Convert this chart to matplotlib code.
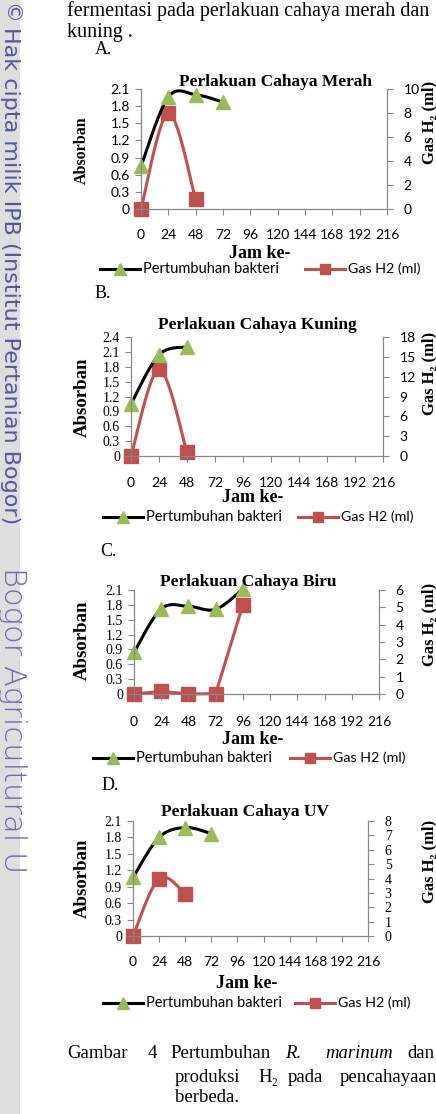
import matplotlib
matplotlib.use("Agg")
import matplotlib.pyplot as plt
from matplotlib.lines import Line2D
from matplotlib.patches import Rectangle
import numpy as np

# figure size in pixels (dpi 100)
W, H = 436, 1114

# x axis categories (Jam ke-)
hours = [0, 24, 48, 72, 96, 120, 144, 168, 192, 216]

# A. Perlakuan Cahaya Merah
merah_jam_abs = [0, 24, 48, 72]
merah_abs = [0.75, 1.96, 2.0, 1.87]
merah_jam_gas = [0, 24, 48]
merah_gas = [0.0, 8.0, 0.8]

# B. Perlakuan Cahaya Kuning
kuning_jam_abs = [0, 24, 48]
kuning_abs = [1.05, 2.04, 2.2]
kuning_jam_gas = [0, 24, 48]
kuning_gas = [0.0, 13.1, 0.6]

# C. Perlakuan Cahaya Biru
biru_jam_abs = [0, 24, 48, 72, 96]
biru_abs = [0.84, 1.72, 1.77, 1.71, 2.12]
biru_jam_gas = [0, 24, 48, 72, 96]
biru_gas = [0.0, 0.15, 0.0, 0.02, 5.15]

# D. Perlakuan Cahaya UV
uv_jam_abs = [0, 24, 48, 72]
uv_abs = [1.07, 1.8, 1.98, 1.87]
uv_jam_gas = [0, 24, 48]
uv_gas = [0.0, 4.0, 2.95]

SERIF = ["Liberation Serif", "DejaVu Serif"]
SANS = ["Lato", "DejaVu Sans"]
GREEN = "#9bbb59"
RED = "#c0504d"
GRID = "#868686"


def box(x0, ytop, x1, ybot):
    return [x0 / W, 1 - ybot / H, (x1 - x0) / W, (ybot - ytop) / H]


def fx(x):
    return x / W


def fy(y):
    return 1 - y / H


def smooth(xs, ys, n=24):
    # Excel style smoothed line (uniform Catmull-Rom through the points)
    p = np.column_stack([xs, ys]).astype(float)
    if len(p) < 3:
        return p[:, 0], p[:, 1]
    ext = np.vstack([p[0], p, p[-1]])
    t = np.linspace(0, 1, n)[:, None]
    out = []
    for i in range(1, len(ext) - 2):
        p0, p1, p2, p3 = ext[i - 1], ext[i], ext[i + 1], ext[i + 2]
        seg = 0.5 * (2 * p1 + (-p0 + p2) * t + (2 * p0 - 5 * p1 + 4 * p2 - p3) * t ** 2
                     + (-p0 + 3 * p1 - 3 * p2 + p3) * t ** 3)
        out.append(seg)
    out = np.vstack(out)
    return out[:, 0], out[:, 1]


panels = [
    dict(title="Perlakuan Cahaya Merah", letter="A.",
         jab=merah_jam_abs, ab=merah_abs, jgas=merah_jam_gas, gas=merah_gas, gas_smooth=True,
         ymax=2.1, ystep=0.3, gmax=10, gstep=2,
         rect=(141, 89, 387, 209), title_xy=(275, 82), ylab_y=150, glab_y=122,
         xl_y=253, tick_pad=10.5, leg_y=269, leg_x=(100, 305), letter_xy=(95, 50),
         left_font=SANS, right_font=SANS, ylab_size=11.5),
    dict(title="Perlakuan Cahaya Kuning", letter="B.",
         jab=kuning_jam_abs, ab=kuning_abs, jgas=kuning_jam_gas, gas=kuning_gas, gas_smooth=True,
         ymax=2.4, ystep=0.3, gmax=18, gstep=3,
         rect=(131, 337, 383, 456), title_xy=(257, 325), ylab_y=397, glab_y=373,
         xl_y=498, tick_pad=11, leg_y=517, leg_x=(103, 298), letter_xy=(95, 293),
         left_font=SERIF, right_font=SANS, ylab_size=13.5),
    dict(title="Perlakuan Cahaya Biru", letter="C.",
         jab=biru_jam_abs, ab=biru_abs, jgas=biru_jam_gas, gas=biru_gas, gas_smooth=False,
         ymax=2.1, ystep=0.3, gmax=6, gstep=1,
         rect=(134, 590, 379, 694), title_xy=(248, 582), ylab_y=640, glab_y=624,
         xl_y=739, tick_pad=11.5, leg_y=758, leg_x=(93, 290), letter_xy=(100, 552),
         left_font=SERIF, right_font=SANS, ylab_size=13.5),
    dict(title="Perlakuan Cahaya UV", letter="D.",
         jab=uv_jam_abs, ab=uv_abs, jgas=uv_jam_gas, gas=uv_gas, gas_smooth=True,
         ymax=2.1, ystep=0.3, gmax=8, gstep=1,
         rect=(133, 821, 368, 936), title_xy=(245, 812), ylab_y=878, glab_y=861,
         xl_y=983, tick_pad=10.5, leg_y=1003, leg_x=(103, 295), letter_xy=(102, 785),
         left_font=SERIF, right_font=SERIF, ylab_size=13.5),
]

fig = plt.figure(figsize=(W / 100, H / 100), dpi=100)
fig.patch.set_facecolor("white")

for p in panels:
    x0, yt, x1, yb = p["rect"]
    ax = fig.add_axes(box(x0, yt, x1, yb))
    ax2 = ax.twinx()
    ax.set_zorder(ax2.get_zorder() + 1)
    ax.patch.set_visible(False)

    ax.set_xlim(hours[0], hours[-1])
    ax.set_ylim(0, p["ymax"])
    ax2.set_ylim(0, p["gmax"])
    ax.set_xticks(hours)
    ax.set_xticklabels([str(h) for h in hours], family=SANS, fontsize=10)
    yt_vals = np.round(np.arange(0, p["ymax"] + 1e-9, p["ystep"]), 1)
    ax.set_yticks(yt_vals)
    ax.set_yticklabels(["0" if v == 0 else f"{v:.1f}" for v in yt_vals],
                       family=p["left_font"], fontsize=10)
    g_vals = np.arange(0, p["gmax"] + 1, p["gstep"])
    ax2.set_yticks(g_vals)
    ax2.set_yticklabels([str(int(v)) for v in g_vals], family=p["right_font"], fontsize=10)

    for a in (ax, ax2):
        a.spines["top"].set_visible(False)
        for s in ("left", "right", "bottom"):
            a.spines[s].set_color(GRID)
            a.spines[s].set_linewidth(0.8)
    ax.tick_params(axis="x", length=4, color=GRID, pad=p["tick_pad"], labelcolor="black")
    ax.tick_params(axis="y", length=4, color=GRID, pad=4)
    ax2.tick_params(axis="y", length=4, color=GRID, pad=8)

    # Gas H2 on the secondary axis
    if p["gas_smooth"]:
        sx, sy = smooth(p["jgas"], p["gas"])
    else:
        sx, sy = p["jgas"], p["gas"]
    ax2.plot(sx, sy, color=RED, lw=2.2, clip_on=False, solid_capstyle="round")
    ax2.plot(p["jgas"], p["gas"], ls="none", marker="s", ms=9.5, color=RED,
             mec=RED, clip_on=False)

    # bacterial growth (absorbance)
    sx, sy = smooth(p["jab"], p["ab"])
    ax.plot(sx, sy, color="black", lw=2.2, clip_on=False, solid_capstyle="round")
    ax.plot(p["jab"], p["ab"], ls="none", marker="^", ms=10.5, color=GREEN,
            mec=GREEN, clip_on=False)

    # titles and labels
    tx, ty = p["title_xy"]
    fig.text(fx(tx), fy(ty), p["title"], ha="center", va="center", family=SERIF,
             fontweight="bold", fontsize=12.5)
    fig.text(fx(82), fy(p["ylab_y"]), "Absorban", ha="center", va="center",
             rotation=90, family=SERIF, fontweight="bold", fontsize=p["ylab_size"])
    fig.text(fx(429), fy(p["glab_y"]), "Gas H\u2082 (ml)", ha="center", va="center",
             rotation=90, family=SERIF, fontweight="bold", fontsize=12)
    fig.text(fx((x0 + x1) / 2 - 4), fy(p["xl_y"]), "Jam ke-", ha="center", va="center",
             family=SERIF, fontweight="bold", fontsize=13)
    lx, ly = p["letter_xy"]
    fig.text(fx(lx), fy(ly), p["letter"], ha="left", va="center", family=SERIF,
             fontsize=13)

    # legend
    gx, rx = p["leg_x"]
    y = fy(p["leg_y"])
    fig.add_artist(Line2D([fx(gx), fx(gx + 40)], [y, y], color="black", lw=2.2))
    fig.add_artist(Line2D([fx(gx + 20)], [y], marker="^", ms=8.5, color=GREEN, ls="none"))
    fig.text(fx(gx + 43), y, "Pertumbuhan bakteri", ha="left", va="center",
             family=SANS, fontsize=10.5)
    fig.add_artist(Line2D([fx(rx), fx(rx + 40)], [y, y], color=RED, lw=2.2))
    fig.add_artist(Line2D([fx(rx + 20)], [y], marker="s", ms=7.5, color=RED, ls="none"))
    fig.text(fx(rx + 43), y, "Gas H2 (ml)", ha="left", va="center",
             family=SANS, fontsize=10.3)

# running page text
fig.text(fx(67), fy(11), "fermentasi pada perlakuan cahaya merah dan",
         ha="left", va="center", family=SERIF, fontsize=14.5)
fig.text(fx(67), fy(33), "kuning .", ha="left", va="center", family=SERIF, fontsize=14.5)

# caption
cap1 = [("Gambar", 67, "normal"), ("4", 148, "normal"), ("Pertumbuhan", 170, "normal"),
        ("R.", 285, "italic"), ("marinum", 325, "italic"), ("dan", 407, "normal")]
for word, x, style in cap1:
    fig.text(fx(x), fy(1053), word, ha="left", va="center", family=SERIF,
             fontsize=13.5, style=style)
cap2 = [("produksi", 175), ("H\u2082", 258), ("pada", 288), ("pencahayaan", 340)]
for word, x in cap2:
    fig.text(fx(x), fy(1077), word, ha="left", va="center", family=SERIF, fontsize=13.5)
fig.text(fx(175), fy(1098), "berbeda.", ha="left", va="center", family=SERIF, fontsize=13.5)

# IPB watermark strip on the left edge
fig.add_artist(Rectangle((0, 0), fx(20), 1, transform=fig.transFigure,
                         facecolor="#dedede", edgecolor="none", zorder=0))
fig.text(fx(10), fy(13), "\u00a9", ha="center", va="center", rotation=-90,
         color="#55559f", fontsize=15, family=["DejaVu Sans"])
fig.text(fx(10), fy(27), "Hak cipta milik IPB (Institut Pertanian Bogor)",
         ha="center", va="top", rotation=-90, color="#55559f", fontsize=16,
         family=["DejaVu Sans"])
fig.text(fx(12), fy(567), "Bogor Agricultural U", ha="center", va="top",
         rotation=-90, color="#6a6ab4", fontsize=22, family=["DejaVu Sans"],
         fontweight="light")

fig.savefig("out.png", dpi=100)
